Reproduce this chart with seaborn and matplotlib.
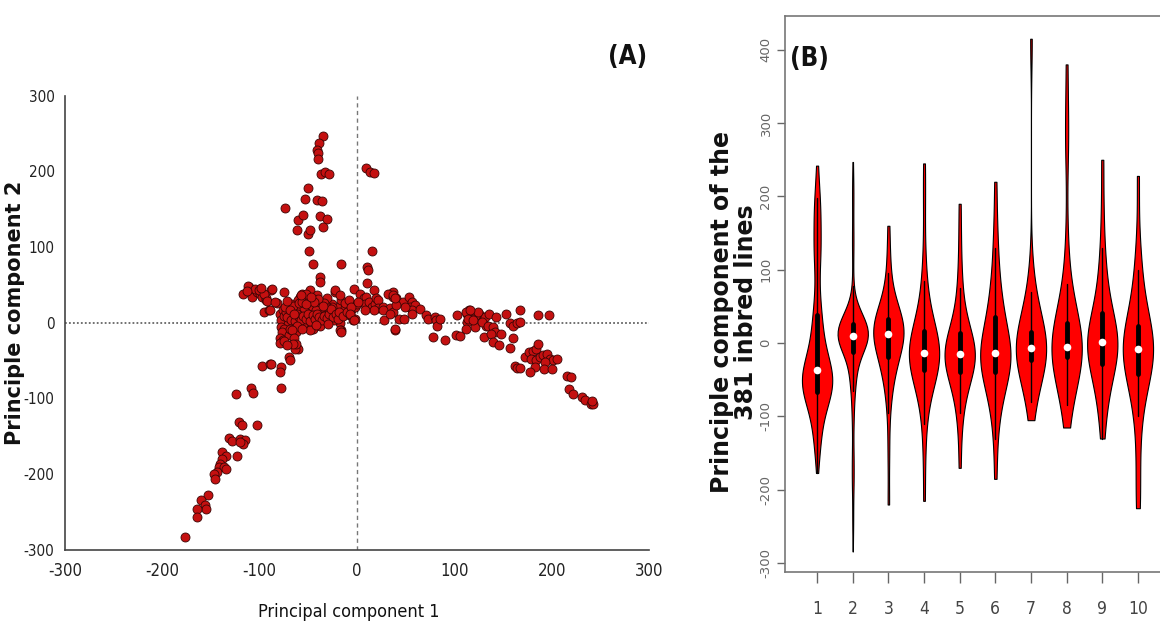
import matplotlib
matplotlib.use("Agg")
import matplotlib.pyplot as plt
import seaborn as sns
import pandas as pd
from matplotlib import font_manager as fm

# ---------------- Panel A data (PC1, PC2 of the 381 inbred lines) ----------------
pc1_up = [-35, -39, -41, -40, -40, -37, -33, -29, -50, -53, -41, -36, -74, -61, -55, -38, -31,
          -62, -35, -50, -48, -49, -45, -16, -38, -38, 9, 13, 17, 15, 10, 11, 10, 17, -3]
pc2_up = [247, 238, 228, 224, 216, 197, 199, 197, 178, 163, 162, 161, 152, 136, 142, 141, 137,
          122, 127, 117, 123, 95, 78, 77, 60, 54, 204, 199, 198, 95, 74, 70, 52, 43, 45]

pc1_left = [-117, -111, -106, -108, -103, -100, -98, -94, -93, -88, -96, -90, -82, -75,
            -112, -105, -101, -96, -92, -89, -87, -84, -113, -99]
pc2_left = [38, 47, 43, 34, 41, 38, 34, 30, 32, 43, 14, 16, 26, 41,
            49, 45, 43, 38, 29, 16, 45, 27, 42, 46]

pc1_core = [-79, -76, -72, -74, -70, -77, -67, -64, -60, -57, -53, -50, -47, -43, -40, -36, -33,
            -29, -26, -23, -19, -16, -12, -9, -6, -2, -59, -57, -48, -41, -23, -31, -55, -48,
            -45, -38, -28, -7, -2, -17, -16, -67, -61]
pc2_core = [12, 16, 21, 5, 1, -4, 10, 16, 19, 12, 16, 21, 14, 19, 25, 16, 21,
            14, 25, 16, 21, 30, 19, 25, 16, 21, 34, 38, 43, 36, 41, 32, -1, -6,
            -8, 1, 3, 10, 5, -1, -10, 25, 30]

pc1_core2 = [-78, -75, -73, -71, -69, -66, -63, -61, -59, -57, -54, -51, -49, -46, -44, -42, -40,
             -37, -35, -32, -30, -28, -26, -24, -21, -78, -74, -70, -66, -62, -58, -54, -50, -46,
             -42, -38, -34, -30, -65, -60, -55, -50, -45, -40, -35, -72, -68, -63, -56, -48]
pc2_core2 = [3, 9, 14, -2, 6, 13, 7, 18, 1, 10, 3, 15, 8, 17, 1, 14, 4,
             11, 18, 2, 16, 8, 20, 3, 9, -6, 20, -10, 22, 11, -2, 19, -4, 22,
             16, -5, 26, 19, 0, 26, -3, 28, 6, 31, 9, 28, -14, -12, 27, -10]

pc1_fill = [-72, -68, -64, -60, -58, -55, -52, -50, -48, -45, -43, -41, -39, -36, -34, -31, -29,
            -27, -25, -22, -20, -18, -14, -12, -10, -8, -44, -52, -35, -62, -56, -42, -30, -75,
            -7, -4, -23, -17, -52, -47, -58, -69, -65]
pc2_fill = [8, 4, 2, 8, 4, 9, 5, 11, 2, 10, 5, 12, 7, 3, 9, 6, 11,
            18, 8, 12, 5, 14, 9, 26, 14, 30, 27, 24, 22, -4, -8, -3, -2, -8,
            10, 4, 43, 36, 38, 34, 36, 16, 12]

pc1_dip = [-77, -79, -76, -70, -69, -67, -65, -62, -70, -69, -78, -98, -89, -79, -75, -61, -79,
           -78, -88, -17, -16, -64, -63, -66, -72]
pc2_dip = [-12, -21, -23, -17, -8, -10, -21, -33, -46, -50, -59, -57, -55, -27, -24, -35, -65,
           -87, -55, -10, -12, -35, -28, -28, -30]

pc1_arm = [-109, -107, -124, -121, -118, -103, -132, -128, -120, -115, -117, -120, -123, -139,
           -135, -139, -141, -142, -137, -135, -144, -147, -146, -153, -160, -156, -155, -164,
           -164, -177]
pc2_arm = [-87, -93, -95, -132, -136, -135, -152, -156, -154, -155, -161, -158, -176, -171,
           -176, -180, -187, -191, -191, -193, -198, -200, -207, -228, -235, -241, -246, -246,
           -257, -284]

pc1_mid = [3, 7, 9, 8, 12, 15, 19, 20, 22, 22, 17, 8, 27, 0, -6, -7, -3, 1, 34, 37,
           40, 34, 37, 39, 28, 43, 48, 47, 53, 56, 54, 60, 57, 65, 56, 49, 32, 37, 40, 39,
           27, 34, 37, 39]
pc2_mid = [38, 32, 34, 25, 27, 21, 25, 32, 30, 19, 16, 16, 21, 25, 21, 12, 3, 27, 38, 41,
           33, 19, 14, -10, 4, 5, 5, 27, 34, 27, 21, 23, 16, 18, 12, 21, 38, 34, 23, -8,
           16, 12, 36, 32]

pc1_right = [71, 73, 80, 81, 82, 85, 78, 90, 102, 106, 103, 113, 115, 118, 113, 119, 121, 112,
             126, 129, 131, 130, 133, 124, 112, 116, 114, 119, 128, 136, 135, 140, 142, 143,
             138, 148, 140, 146, 153, 157, 160, 164, 167, 167, 160, 157, 186, 197]
pc2_right = [10, 5, 8, 3, -4, 5, -19, -23, -17, -18, 10, 12, 16, 10, 1, 5, -6, -8,
             10, 3, 8, -19, -4, 14, 14, 16, 5, 3, 1, 12, -4, -6, -12, 8,
             -15, -15, -26, -30, 12, -1, -4, -1, 1, 16, -21, -34, 10, 10]

pc1_tail = [173, 177, 181, 184, 186, 179, 184, 188, 191, 195, 198, 201, 205, 193, 183, 178, 192,
            200, 162, 164, 167, 216, 220, 218, 222, 231, 234, 240, 242, 241]
pc2_tail = [-46, -39, -37, -35, -28, -48, -50, -46, -43, -41, -48, -50, -48, -52, -59, -65, -61,
            -62, -57, -60, -60, -70, -72, -88, -95, -98, -102, -107, -108, -103]

# ---------------- Panel B data (values of components 3..10) ----------------
comp3 = [-220, -150, -95, -70, -55, -45, -38, -30, -25, -20, -15, -10, -5, 0, 3, 6, 8, 10, 12,
         14, 16, 18, 20, 22, 24, 26, 28, 30, 33, 36, 40, 45, 52, 60, 75, 95, 120, 160]
comp4 = [-215, -150, -110, -85, -70, -60, -52, -45, -40, -36, -32, -28, -25, -22, -20, -18, -16,
         -14, -12, -10, -8, -5, -2, 2, 6, 10, 15, 20, 28, 38, 50, 65, 85, 120, 190, 245]
comp5 = [-170, -120, -95, -80, -68, -58, -50, -44, -40, -36, -32, -28, -25, -22, -20, -18, -16,
         -14, -12, -9, -6, -2, 2, 6, 10, 15, 22, 30, 40, 55, 75, 100, 140, 190]
comp6 = [-185, -130, -100, -82, -70, -60, -52, -46, -40, -35, -30, -26, -23, -20, -17, -15, -13,
         -10, -6, -2, 3, 10, 18, 27, 36, 45, 55, 65, 80, 100, 130, 160, 220]
comp7 = [-105, -80, -60, -45, -36, -30, -25, -21, -18, -15, -13, -11, -9, -7, -5, -3, 0, 3, 7,
         12, 18, 26, 36, 50, 70, 90, 415]
comp8 = [-115, -85, -62, -46, -35, -28, -22, -20, -18, -15, -12, -10, -9, -8, -6, -4, -2, 1, 4,
         8, 13, 20, 30, 45, 65, 80, 140, 280, 285, 380]
comp9 = [-130, -100, -80, -66, -55, -46, -38, -31, -25, -20, -15, -11, -7, -4, -1, 2, 5, 9, 13,
         18, 24, 30, 37, 45, 55, 68, 85, 105, 130, 180, 250]
comp10 = [-225, -200, -145, -100, -78, -62, -50, -40, -32, -26, -21, -17, -13, -10, -7, -4, -1,
          3, 8, 14, 21, 30, 42, 58, 78, 100, 130, 228]

comp_labels = ["1", "2", "3", "4", "5", "6", "7", "8", "9", "10"]
a_ticks = [-300, -200, -100, 0, 100, 200, 300]
b_yticks = [-300, -200, -100, 0, 100, 200, 300, 400]

# ---------------- build tables ----------------
pc1 = (pc1_up + pc1_left + pc1_core + pc1_core2 + pc1_fill + pc1_dip + pc1_arm + pc1_mid
       + pc1_right + pc1_tail)
pc2 = (pc2_up + pc2_left + pc2_core + pc2_core2 + pc2_fill + pc2_dip + pc2_arm + pc2_mid
       + pc2_right + pc2_tail)
dfA = pd.DataFrame({"PC1": pc1, "PC2": pc2})

groups = [pc1, pc2, comp3, comp4, comp5, comp6, comp7, comp8, comp9, comp10]
rows = []
for lab, vals in zip(comp_labels, groups):
    for v in vals:
        rows.append((lab, v))
dfB = pd.DataFrame(rows, columns=["component", "value"])

# ---------------- style / fonts ----------------
sns.set_theme(style="white")
plt.rcParams["font.family"] = ["Liberation Sans", "DejaVu Sans"]


def find_condensed(bold):
    for f in fm.fontManager.ttflist:
        fn = f.fname.lower()
        nm = f.name.lower()
        if ("narrow" in nm or "condensed" in fn or "condensed" in nm) and \
                "oblique" not in fn and "italic" not in fn and "mono" not in fn:
            isbold = "bold" in fn
            if isbold == bold:
                return f.fname
    return None


cond_reg = find_condensed(False)
cond_bold = find_condensed(True)


def fp(size, bold=False):
    path = cond_bold if bold else cond_reg
    if path:
        return fm.FontProperties(fname=path, size=size)
    return fm.FontProperties(family="Liberation Sans", size=size * 0.9,
                             weight="bold" if bold else "normal")


W, H = 1160, 633
fig = plt.figure(figsize=(W / 100, H / 100), dpi=100)

# ---------------- Panel A ----------------
axA = fig.add_axes([65 / W, 1 - 549.5 / H, (649 - 65) / W, (549.5 - 95.7) / H])
axA.axhline(0, color="#666666", lw=1.3, ls=(0, (1, 1.2)), zorder=1)
axA.axvline(0, color="#777777", lw=1.0, ls=(0, (3, 2.5)), zorder=1)
sns.scatterplot(data=dfA, x="PC1", y="PC2", ax=axA, color="#c41010",
                edgecolor="#3a0505", linewidth=0.6, s=42, zorder=3, legend=False)
axA.set_xlim(-300, 300)
axA.set_ylim(-300, 300)
axA.set_xticks(a_ticks)
axA.set_yticks(a_ticks)
axA.set_xticklabels([str(t) for t in a_ticks], color="#222222", fontproperties=fp(12))
axA.set_yticklabels([str(t) for t in a_ticks], color="#222222", fontproperties=fp(11))
for s in ["top", "right"]:
    axA.spines[s].set_visible(False)
for s in ["left", "bottom"]:
    axA.spines[s].set_color("#444444")
    axA.spines[s].set_linewidth(1.2)
axA.tick_params(axis="x", direction="in", length=10, width=1, color="#444444", pad=9)
axA.tick_params(axis="y", direction="out", length=7, width=1, color="#444444", pad=0.5)
axA.set_xlabel("")
axA.set_ylabel("")
fig.text(349 / W, 1 - 612 / H, "Principal component 1", ha="center", va="center",
         color="#111111", fontproperties=fp(13))
fig.text(15 / W, 1 - 313 / H, "Principle component 2", ha="center", va="center",
         rotation=90, fontsize=15, fontweight="bold", family="DejaVu Sans", color="#111111")
fig.text(628 / W, 1 - 57 / H, "(A)", ha="center", va="center", color="#111111",
         fontproperties=fp(18.5, bold=True))

# ---------------- Panel B ----------------
axB = fig.add_axes([785 / W, 1 - 572 / H, (1170 - 785) / W, (572 - 16) / H])
sns.violinplot(data=dfB, x="component", y="value", order=comp_labels, ax=axB,
               color="#ff0000", saturation=1, linecolor="black", linewidth=0.8,
               cut=0, density_norm="width", width=0.85, bw_adjust=0.9,
               inner="box", inner_kws=dict(box_width=3.5, whis_width=1.0, marker="o"))
for ln in axB.lines:
    if ln.get_marker() == "o":
        ln.set_markersize(5.5)
        ln.set_markeredgewidth(0)
        ln.set_color("white")
axB.set_xlim(-0.9, 9.9)
axB.set_ylim(-312, 446)
axB.set_yticks(b_yticks)
axB.set_yticklabels([str(t) for t in b_yticks], fontsize=9.5, color="#666666",
                    family="DejaVu Sans", rotation=90, va="center")
axB.set_xticklabels(comp_labels, color="#444444", fontproperties=fp(12.5))
for s in ["top", "left", "bottom"]:
    axB.spines[s].set_color("#777777")
    axB.spines[s].set_linewidth(1.2)
axB.spines["right"].set_visible(False)
axB.tick_params(axis="x", direction="out", length=8, width=1, color="#666666", pad=12,
                bottom=True)
axB.tick_params(axis="y", direction="out", length=6, width=1, color="#666666", pad=3, left=True)
axB.set_xlabel("")
axB.set_ylabel("")
fig.text(734 / W, 1 - 312 / H, "Principle component of the\n381 inbred lines", ha="center",
         va="center", rotation=90, fontsize=17, fontweight="bold", family="DejaVu Sans",
         color="#111111", linespacing=1.0, multialignment="center")
fig.text(809 / W, 1 - 59 / H, "(B)", ha="center", va="center", color="#111111",
         fontproperties=fp(18.5, bold=True))

fig.savefig("out.png", dpi=100)
